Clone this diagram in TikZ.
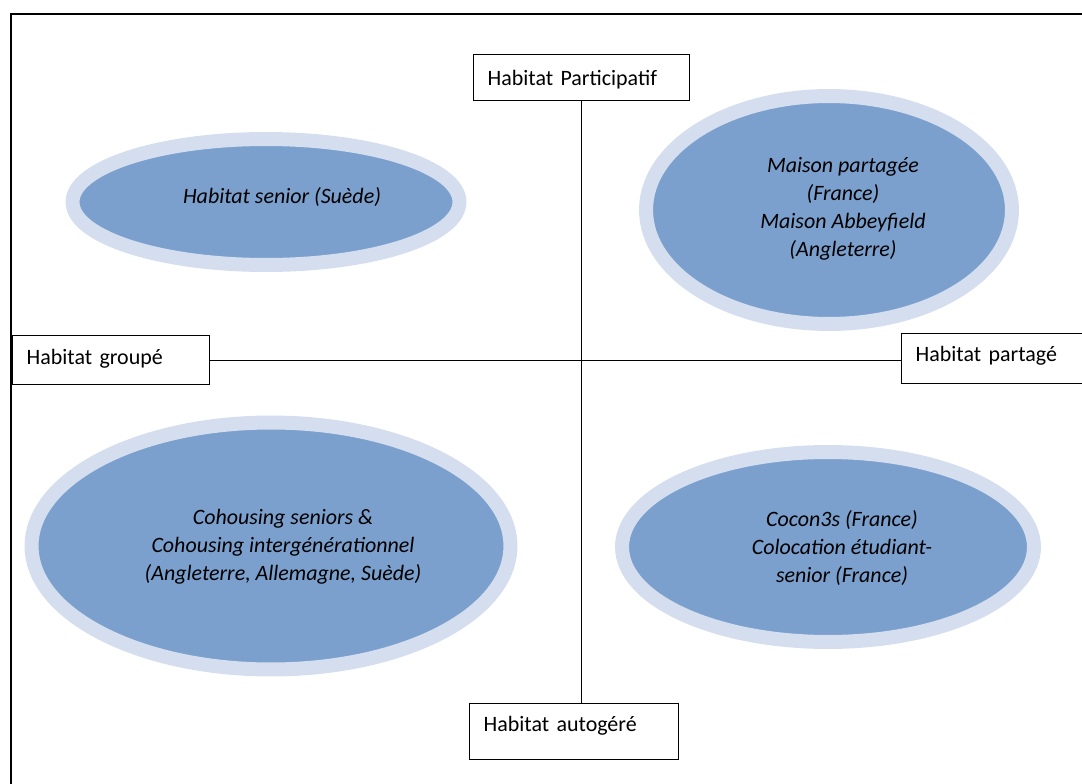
\documentclass[tikz,border=0pt]{standalone}
\usepackage{fontspec}
\setmainfont{Carlito}
\usetikzlibrary{shapes.geometric}
\definecolor{blobfill}{RGB}{123,160,205}
\definecolor{blobring}{RGB}{212,222,238}
\begin{document}
\begin{tikzpicture}[x=0.02cm,y=-0.02cm,
  blob/.style={ellipse,fill=blobfill,draw=blobring,line width=0.28cm,inner sep=0pt},
  blobtext/.style={align=center,font=\fontsize{12.5}{15.9}\selectfont\itshape},
  axisbox/.style={draw,line width=0.8pt,anchor=north west,inner ysep=0pt,inner xsep=0.28cm,
    align=left,font=\fontsize{12.5}{15.9}\selectfont}]
\useasboundingbox (0,0) rectangle (1082,784);
\draw[line width=0.7pt] (11,14) rectangle (1095,800);

\node[blob,minimum width=7.74cm,minimum height=2.52cm] (senior) at (266,202) {};
\node[blob,minimum width=9.58cm,minimum height=4.94cm] (cohousing) at (271,546) {};
\node[blob,minimum width=7.32cm,minimum height=4.56cm] (maison) at (829,210) {};
\node[blob,minimum width=8.24cm,minimum height=3.8cm] (cocon) at (828,547) {};

\node[blobtext] (seniortxt) at (282,197) {Habitat senior (Suède)};
\node[blobtext] (cohousingtxt) at (283,547) {Cohousing seniors \&\\Cohousing intergénérationnel\\(Angleterre, Allemagne, Suède)};
\node[blobtext] (maisontxt) at (843,209) {Maison partagée\\(France)\\Maison Abbeyfield\\(Angleterre)};
\node[blobtext] (cocontxt) at (842,548) {Cocon3s (France)\\Colocation étudiant-\\senior (France)};

\node[axisbox,text width=3.76cm,text height=0.62cm,text depth=0.3cm] (part) at (473,54) {Habitat Participatif};
\node[axisbox,text width=3.38cm,text height=0.58cm,text depth=0.4cm] (grp) at (12,335) {Habitat groupé};
\node[axisbox,text width=3.22cm,text height=0.56cm,text depth=0.44cm] (shared) at (901,333) {Habitat partagé};
\node[axisbox,text width=3.62cm,text height=0.56cm,text depth=0.56cm] (auto) at (469,703) {Habitat autogéré};

\draw[line width=0.6pt] (part.south) -- (part.south |- auto.north);
\draw[line width=0.6pt] (grp.east) -- (grp.east -| shared.west);
\end{tikzpicture}
\end{document}
